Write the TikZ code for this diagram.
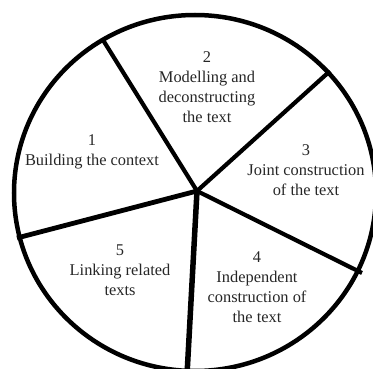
\documentclass[tikz,border=0pt]{standalone}
\usepackage{fontspec}
\setmainfont{Liberation Serif}
\begin{document}
\begin{tikzpicture}[x=1pt,y=-1pt,
  rim/.style={line width=4.5pt},
  spoke/.style={line width=4.2pt},
  label/.style={align=center,text=black!85,inner sep=0pt,
    font=\fontsize{16.4}{20}\selectfont}]
\useasboundingbox (0,0) rectangle (373,369);
\begin{scope}
\clip (0,0) rectangle (373,369);
% outer wheel
\draw[rim] (195,193) ellipse [x radius=181, y radius=178];
% hub and spoke ends
\coordinate (hub) at (197,191);
\coordinate (e12) at (103,40);
\coordinate (e23) at (330,71);
\coordinate (e34) at (362,273);
\coordinate (e45) at (187,375);
\coordinate (e51) at (17,238);
\draw[spoke] (hub) -- (e12);
\draw[spoke] (hub) -- (e23);
\draw[spoke] (hub) -- (e34);
\draw[spoke,line width=5.5pt] (hub) -- (e45);
\draw[spoke,line width=4.8pt] (hub) -- (e51);
\end{scope}
% sector captions
\node[label] (s1) at (92,151.5) {1\\Building the context};
\node[label] (s2) at (207,87.5) {2\\Modelling and\\deconstructing\\the text};
\node[label] (s3) at (306,170.5) {3\\Joint construction\\of the text};
\node[label] (s4) at (257,287) {4\\Independent\\construction of\\the text};
\node[label] (s5) at (120,270.5) {5\\Linking related\\texts};
\end{tikzpicture}
\end{document}
